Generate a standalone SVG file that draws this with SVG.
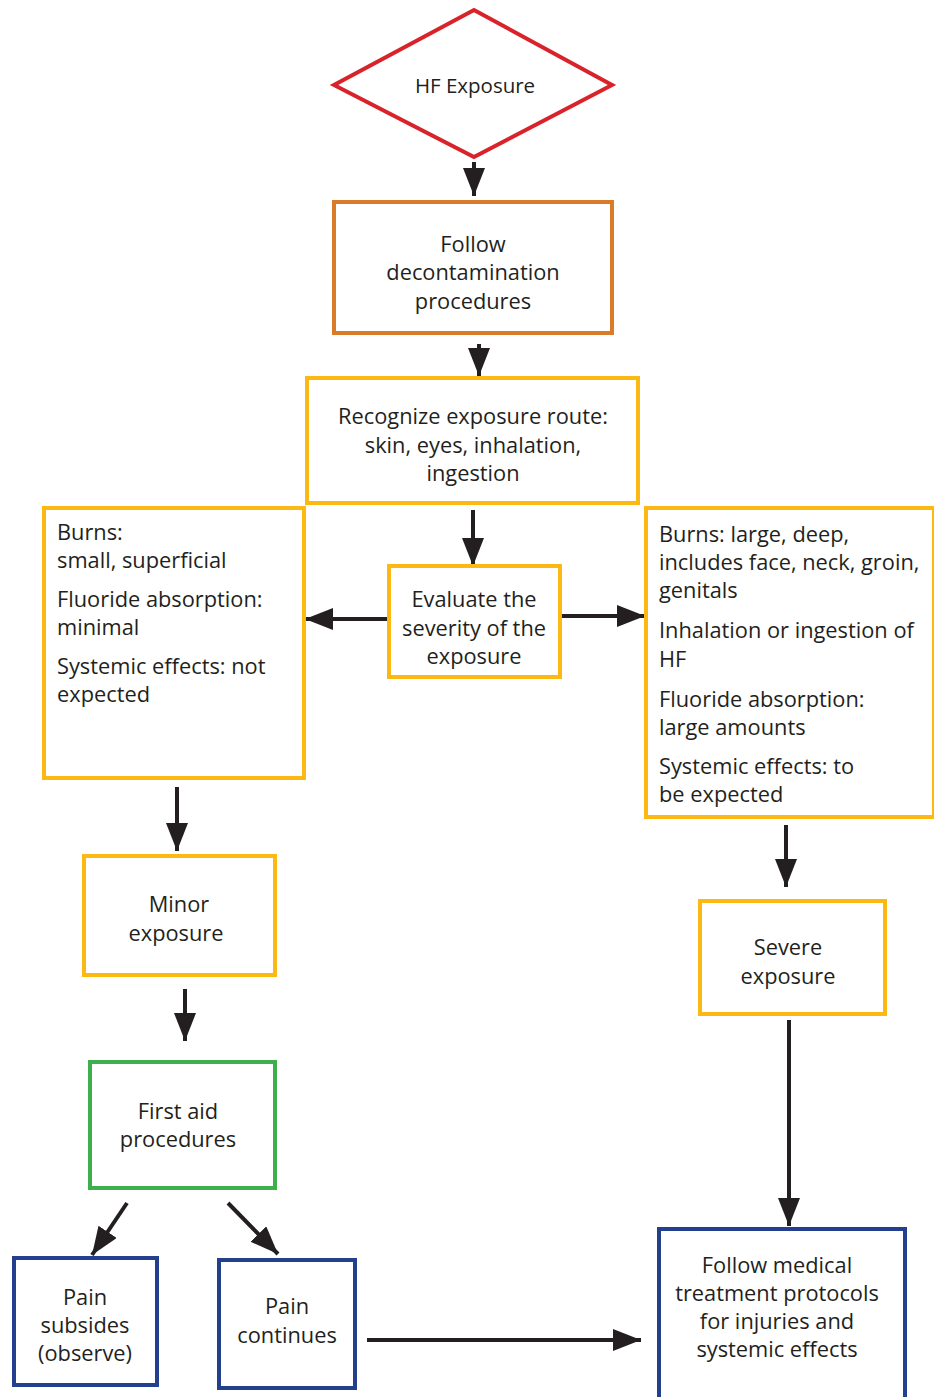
<svg xmlns="http://www.w3.org/2000/svg" width="934" height="1397" viewBox="0 0 934 1397">
<defs>
<marker id="ah" markerUnits="userSpaceOnUse" markerWidth="30" markerHeight="24" refX="28" refY="11" orient="auto">
<path d="M0,0 L28,11 L0,22 Z" fill="#231f20"/>
</marker>
<style>
text{font-family:"Open Sans","Liberation Sans",sans-serif;font-size:21.8px;fill:#231f20}
.c{text-anchor:middle}
.box{fill:#fff;stroke-width:4}
.red{stroke:#d9232a}
.org{stroke:#d97b29}
.yel{stroke:#fdb913}
.grn{stroke:#3db04b}
.blu{stroke:#23408f}
.con line{stroke:#231f20;stroke-width:4;marker-end:url(#ah)}
</style>
</defs>
<rect width="934" height="1397" fill="#fff"/>
<g class="con">
<line x1="474" y1="162" x2="474" y2="196"/>
<line x1="479" y1="344" x2="479" y2="376"/>
<line x1="473" y1="510" x2="473" y2="566"/>
<line x1="389" y1="619" x2="305" y2="619"/>
<line x1="562" y1="616" x2="645" y2="616"/>
<line x1="177" y1="787" x2="177" y2="851"/>
<line x1="185" y1="989" x2="185" y2="1041"/>
<line x1="127" y1="1203" x2="92" y2="1255"/>
<line x1="228" y1="1203" x2="278" y2="1254"/>
<line x1="367" y1="1340" x2="641" y2="1340"/>
<line x1="786" y1="825" x2="786" y2="887"/>
<line x1="789" y1="1020" x2="789" y2="1226"/>
</g>
<g id="hf">
<polygon class="box red" points="474,10 612,85 474,157 334,85"/>
<text class="c" x="475" y="93" style="font-size:20.5px">HF Exposure</text>
</g>
<g id="decon">
<rect class="box org" x="334" y="202" width="278" height="131"/>
<text class="c" x="473" y="252">Follow</text>
<text class="c" x="473" y="280">decontamination</text>
<text class="c" x="473" y="309">procedures</text>
</g>
<g id="route">
<rect class="box yel" x="307" y="378" width="331" height="125"/>
<text class="c" x="473" y="424">Recognize exposure route:</text>
<text class="c" x="473" y="453">skin, eyes, inhalation,</text>
<text class="c" x="473" y="481">ingestion</text>
</g>
<g id="evaluate">
<rect class="box yel" x="389" y="566" width="171" height="111"/>
<text class="c" x="474" y="607">Evaluate the</text>
<text class="c" x="474" y="636">severity of the</text>
<text class="c" x="474" y="664">exposure</text>
</g>
<g id="minorcrit">
<rect class="box yel" x="44" y="508" width="260" height="270"/>
<text x="57" y="540">Burns:</text>
<text x="57" y="568">small, superficial</text>
<text x="57" y="607">Fluoride absorption:</text>
<text x="57" y="635">minimal</text>
<text x="57" y="674">Systemic effects: not</text>
<text x="57" y="702">expected</text>
</g>
<g id="severecrit">
<rect class="box yel" x="646" y="508" width="288" height="309"/>
<text x="659" y="542">Burns: large, deep,</text>
<text x="659" y="570">includes face, neck, groin,</text>
<text x="659" y="598">genitals</text>
<text x="659" y="638">Inhalation or ingestion of</text>
<text x="659" y="667">HF</text>
<text x="659" y="707">Fluoride absorption:</text>
<text x="659" y="735">large amounts</text>
<text x="659" y="774">Systemic effects: to</text>
<text x="659" y="802">be expected</text>
</g>
<g id="minor">
<rect class="box yel" x="84" y="856" width="191" height="119"/>
<text class="c" x="179" y="912">Minor</text>
<text class="c" x="176" y="941">exposure</text>
</g>
<g id="severe">
<rect class="box yel" x="700" y="901" width="185" height="113"/>
<text class="c" x="788" y="955">Severe</text>
<text class="c" x="788" y="984">exposure</text>
</g>
<g id="firstaid">
<rect class="box grn" x="90" y="1062" width="185" height="126"/>
<text class="c" x="178" y="1119">First aid</text>
<text class="c" x="178" y="1147">procedures</text>
</g>
<g id="subsides">
<rect class="box blu" x="14" y="1258" width="143" height="127"/>
<text class="c" x="85" y="1305">Pain</text>
<text class="c" x="85" y="1333">subsides</text>
<text class="c" x="85" y="1361">(observe)</text>
</g>
<g id="continues">
<rect class="box blu" x="219" y="1260" width="136" height="128"/>
<text class="c" x="287" y="1314">Pain</text>
<text class="c" x="287" y="1343">continues</text>
</g>
<g id="medical">
<rect class="box blu" x="659" y="1229" width="246" height="180"/>
<text class="c" x="777" y="1273">Follow medical</text>
<text class="c" x="777" y="1301">treatment protocols</text>
<text class="c" x="777" y="1329">for injuries and</text>
<text class="c" x="777" y="1357">systemic effects</text>
</g>
</svg>
